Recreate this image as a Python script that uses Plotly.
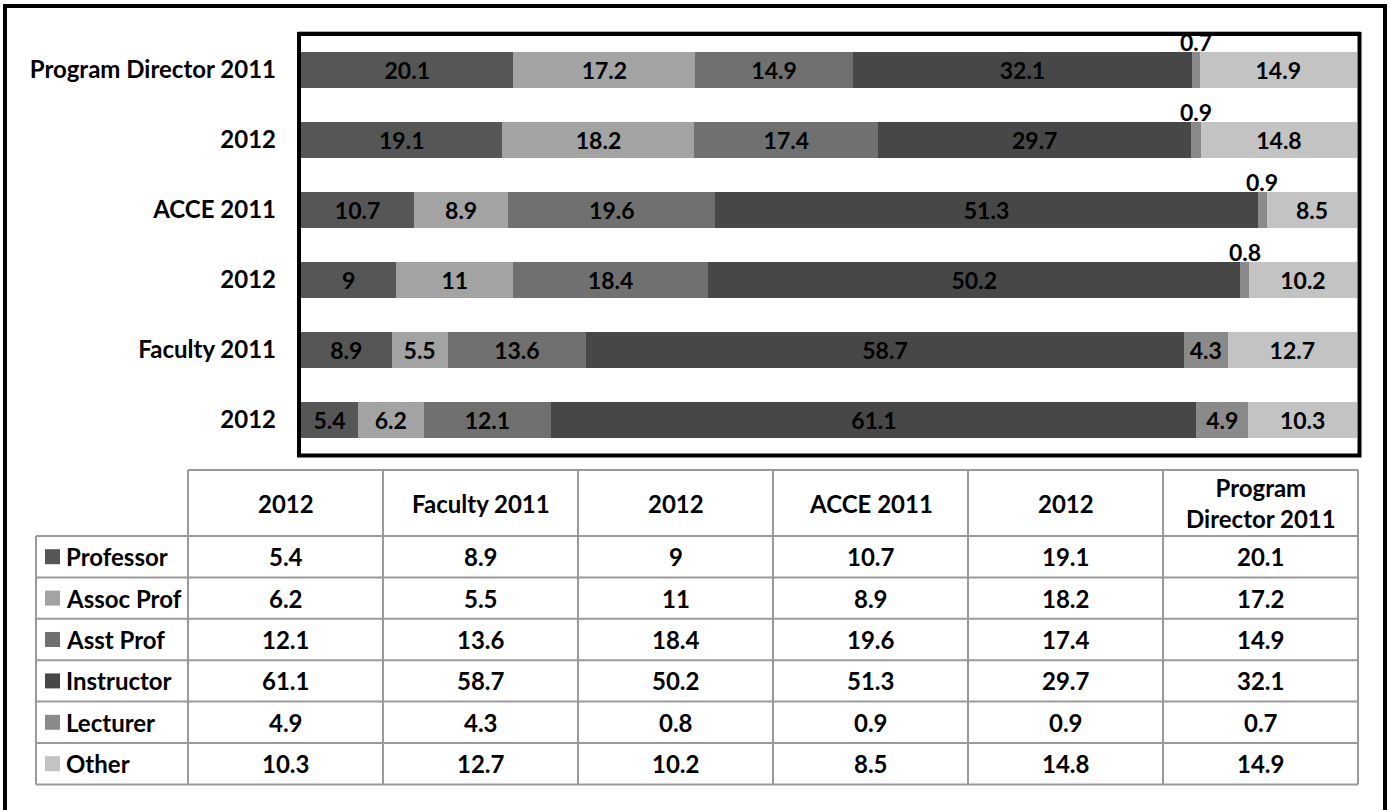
import plotly.graph_objects as go

# ---------------- data ----------------
categories = ["2012", "Faculty 2011", "2012", "ACCE 2011", "2012", "Program Director 2011"]
series_names = ["Professor", "Assoc Prof", "Asst Prof", "Instructor", "Lecturer", "Other"]
professor = [5.4, 8.9, 9, 10.7, 19.1, 20.1]
assoc_prof = [6.2, 5.5, 11, 8.9, 18.2, 17.2]
asst_prof = [12.1, 13.6, 18.4, 19.6, 17.4, 14.9]
instructor = [61.1, 58.7, 50.2, 51.3, 29.7, 32.1]
lecturer = [4.9, 4.3, 0.8, 0.9, 0.9, 0.7]
other = [10.3, 12.7, 10.2, 8.5, 14.8, 14.9]
series_values = [professor, assoc_prof, asst_prof, instructor, lecturer, other]
colors = ["#565656", "#a3a3a3", "#707070", "#474747", "#8a8a8a", "#c3c3c3"]

W, H = 1390, 810
FONT = "Lato"
FS_BAR = 23
FS_AX = 24
FS_TAB = 24

def fmt(v):
    return f"{v:g}"

def px(x):
    return x / W

def py(y):
    return 1 - y / H

ypos = list(range(len(categories)))
fig = go.Figure()

for name, vals, col in zip(series_names, series_values, colors):
    small = name == "Lecturer"
    texts = [("" if (small and v < 2) else fmt(v)) for v in vals]
    fig.add_trace(go.Bar(
        y=ypos, x=vals, name=name, orientation="h",
        marker=dict(color=col, line=dict(width=0)),
        text=texts, textposition="inside", insidetextanchor="middle",
        textangle=0, constraintext="none",
        insidetextfont=dict(family=FONT, size=FS_BAR, color="black", weight="bold"),
        showlegend=False, hoverinfo="skip",
    ))

# labels above tiny Lecturer segments (positions from normalised stack)
totals = [sum(s[i] for s in series_values) for i in range(len(categories))]
for i in range(len(categories)):
    v = lecturer[i]
    if v < 2:
        before = professor[i] + assoc_prof[i] + asst_prof[i] + instructor[i]
        xc = (before + v / 2) / totals[i] * 100
        fig.add_annotation(x=xc, y=ypos[i] + 0.2575, xref="x", yref="y",
                           text=fmt(v), showarrow=False, yanchor="bottom",
                           xanchor="center", yshift=-6,
                           font=dict(family=FONT, size=FS_BAR, color="black", weight="bold"))

# ---------------- axes ----------------
x0p, x1p = 301, 1357
y0p, y1p = 35, 454.5
fig.update_layout(
    width=W, height=H,
    margin=dict(l=0, r=0, t=0, b=0),
    paper_bgcolor="white", plot_bgcolor="white",
    barmode="stack", barnorm="percent", bargap=0.485,
    uniformtext=dict(minsize=FS_BAR, mode="show"),
    xaxis=dict(domain=[px(x0p), px(x1p)], range=[0, 100], visible=False,
               showgrid=False, zeroline=False),
    yaxis=dict(domain=[py(y1p), py(y0p)], range=[-0.5, 5.5],
               tickvals=ypos, ticktext=categories, ticks="",
               ticklabelstandoff=24, showgrid=False, zeroline=False,
               showline=False,
               tickfont=dict(family=FONT, size=FS_AX, color="black", weight="bold")),
)

shapes = []
# outer frame
shapes.append(dict(type="rect", xref="paper", yref="paper",
                   x0=px(5), x1=px(1385), y0=py(840), y1=py(6),
                   line=dict(color="black", width=4), fillcolor="rgba(0,0,0,0)"))
# plot-area frame (light shadow + black border)
shapes.append(dict(type="rect", xref="paper", yref="paper",
                   x0=px(299), x1=px(1359.5), y0=py(455.5), y1=py(32),
                   line=dict(color="#b0b0b0", width=2), fillcolor="rgba(0,0,0,0)"))
shapes.append(dict(type="rect", xref="paper", yref="paper",
                   x0=px(299), x1=px(1359.5), y0=py(455.5), y1=py(34),
                   line=dict(color="black", width=4), fillcolor="rgba(0,0,0,0)"))

# ---------------- data table ----------------
col_edges = [36, 188, 383, 578, 773, 968, 1163, 1358]
header_top, header_bot = 470, 536
row_h = 41.4
n_rows = len(series_names)
row_edges = [header_bot + k * row_h for k in range(n_rows + 1)]
tline = dict(color="#9a9a9a", width=2)

shapes.append(dict(type="line", xref="paper", yref="paper",
                   x0=px(col_edges[1]), x1=px(col_edges[-1]),
                   y0=py(header_top), y1=py(header_top), line=tline))
for ry in row_edges:
    shapes.append(dict(type="line", xref="paper", yref="paper",
                       x0=px(col_edges[0]), x1=px(col_edges[-1]),
                       y0=py(ry), y1=py(ry), line=tline))
for k, cx in enumerate(col_edges):
    top = header_bot if k == 0 else header_top
    shapes.append(dict(type="line", xref="paper", yref="paper",
                       x0=px(cx), x1=px(cx), y0=py(top), y1=py(row_edges[-1]),
                       line=tline))

tfont = dict(family=FONT, size=FS_TAB, color="black", weight="bold")

def wrap(label):
    if len(label) > 14 and " " in label:
        a, b = label.split(" ", 1)
        return a + "<br>" + b
    return label

for j, cat in enumerate(categories):
    cx = (col_edges[j + 1] + col_edges[j + 2]) / 2
    fig.add_annotation(x=px(cx), y=py((header_top + header_bot) / 2),
                       xref="paper", yref="paper", text=wrap(cat),
                       xanchor="center", yanchor="middle",
                       showarrow=False, font=tfont, align="center")

for r, (name, vals, col) in enumerate(zip(series_names, series_values, colors)):
    cy = (row_edges[r] + row_edges[r + 1]) / 2
    shapes.append(dict(type="rect", xref="paper", yref="paper",
                       x0=px(45), x1=px(60), y0=py(cy + 7.5), y1=py(cy - 7.5),
                       fillcolor=col, line=dict(width=0)))
    fig.add_annotation(x=px(64), y=py(cy), xref="paper", yref="paper",
                       text=name, showarrow=False, xanchor="left",
                       yanchor="middle", font=tfont)
    for j, v in enumerate(vals):
        cx = (col_edges[j + 1] + col_edges[j + 2]) / 2
        fig.add_annotation(x=px(cx), y=py(cy), xref="paper", yref="paper",
                           text=fmt(v), showarrow=False, xanchor="center",
                           yanchor="middle", font=tfont)

fig.update_layout(shapes=shapes)
fig.write_html("out.html",
               config={"displayModeBar": False, "staticPlot": True},
               post_script="document.body.style.margin='0';document.body.style.overflow='hidden';")
